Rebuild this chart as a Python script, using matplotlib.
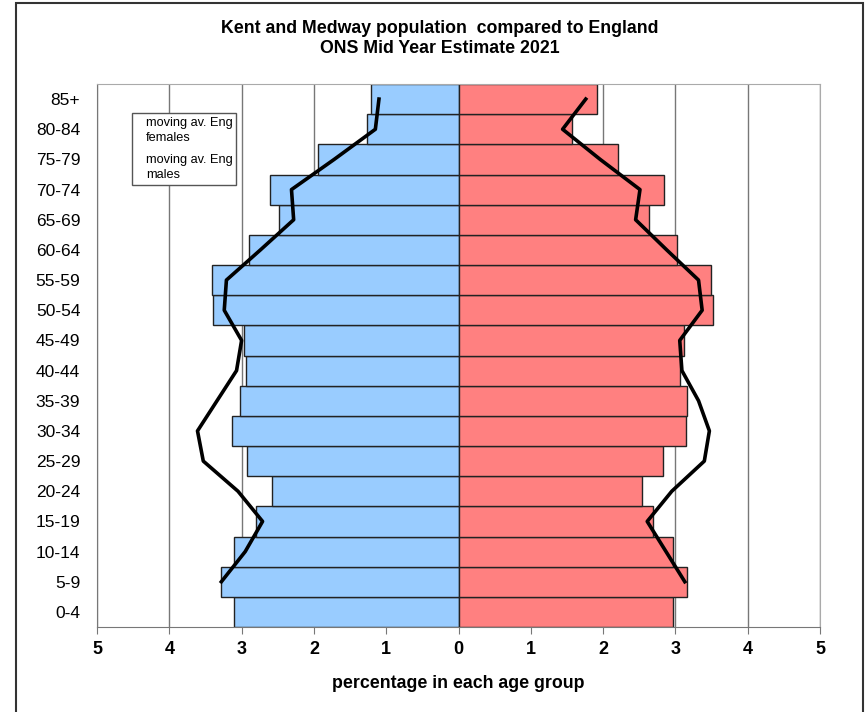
import numpy as np
import matplotlib
matplotlib.use("Agg")
import matplotlib.pyplot as plt
from matplotlib.lines import Line2D
from matplotlib.patches import Rectangle

plt.rcParams["font.family"] = ["Liberation Sans", "DejaVu Sans"]

# Data (percent of population in each age group)
age_groups = ["0-4", "5-9", "10-14", "15-19", "20-24", "25-29", "30-34", "35-39",
              "40-44", "45-49", "50-54", "55-59", "60-64", "65-69", "70-74",
              "75-79", "80-84", "85+"]
kent_males = [3.10, 3.29, 3.11, 2.80, 2.58, 2.92, 3.13, 3.02, 2.94, 2.97,
              3.39, 3.41, 2.90, 2.48, 2.61, 1.95, 1.26, 1.21]
kent_females = [2.97, 3.16, 2.97, 2.69, 2.54, 2.83, 3.14, 3.16, 3.06, 3.12,
                3.52, 3.49, 3.02, 2.63, 2.84, 2.21, 1.57, 1.92]
eng_males_ma = [np.nan, 3.28, 2.95, 2.71, 3.05, 3.53, 3.61, 3.34, 3.07, 3.00,
                3.24, 3.21, 2.74, 2.28, 2.31, 1.72, 1.15, 1.10]
eng_females_ma = [np.nan, 3.13, 2.87, 2.61, 2.95, 3.40, 3.47, 3.32, 3.09, 3.06,
                  3.37, 3.32, 2.88, 2.45, 2.51, 1.96, 1.44, 1.76]
x_ticks = [-5, -4, -3, -2, -1, 0, 1, 2, 3, 4, 5]

y = np.arange(len(age_groups))

fig = plt.figure(figsize=(8.68, 7.12), dpi=100)
ax = fig.add_axes([97 / 868, 1 - 627 / 712, 723 / 868, 543 / 712])

ax.barh(y, -np.array(kent_males), height=1.0, color="#99CCFF",
        edgecolor="#222222", linewidth=1.0, zorder=2)
ax.barh(y, kent_females, height=1.0, color="#FF8080",
        edgecolor="#222222", linewidth=1.0, zorder=2)
ax.plot(-np.array(eng_males_ma), y, color="black", linewidth=2.6, zorder=3)
ax.plot(eng_females_ma, y, color="black", linewidth=2.6, zorder=3)

ax.set_xlim(-5, 5)
ax.set_ylim(-0.5, len(age_groups) - 0.5)
ax.set_xticks(x_ticks)
ax.set_xticklabels([str(abs(v)) for v in x_ticks], fontweight="bold", fontsize=13)
ax.set_yticks(y)
ax.set_yticklabels(age_groups, fontsize=12.5)
ax.tick_params(axis="y", length=0, pad=12)
ax.tick_params(axis="x", length=5, color="#777777", pad=5)
ax.grid(axis="x", color="#777777", linewidth=1.0, zorder=0)
for side in ["top", "right"]:
    ax.spines[side].set_color("#aaaaaa")
for side in ["left", "bottom"]:
    ax.spines[side].set_color("#777777")

ax.set_xlabel("percentage in each age group", fontweight="bold", fontsize=12.8,
              labelpad=12)

handles = [Line2D([], [], color="none"), Line2D([], [], color="none")]
leg = ax.legend(handles, ["moving av. Eng\nfemales", "moving av. Eng\nmales"],
                loc="upper left", bbox_to_anchor=(0.048, 0.947), fontsize=9.2,
                handlelength=0.6, handletextpad=0.2, fancybox=False,
                framealpha=1, edgecolor="#555555", labelspacing=0.75,
                borderpad=0.3, borderaxespad=0)
for t in leg.get_texts():
    t.set_linespacing(1.4)
leg.get_frame().set_linewidth(1.0)

fig.text(440 / 868, 1 - 38.5 / 712,
         "Kent and Medway population  compared to England\nONS Mid Year Estimate 2021",
         ha="center", va="center", fontweight="bold", fontsize=12.8,
         linespacing=1.3)

# outer chart frame
fig.patches.append(Rectangle((16 / 868, -0.05), (863 - 16) / 868, 1.05 - 3 / 712,
                             transform=fig.transFigure, fill=False,
                             edgecolor="#333333", linewidth=1.5))

fig.savefig("out.png", dpi=100)
